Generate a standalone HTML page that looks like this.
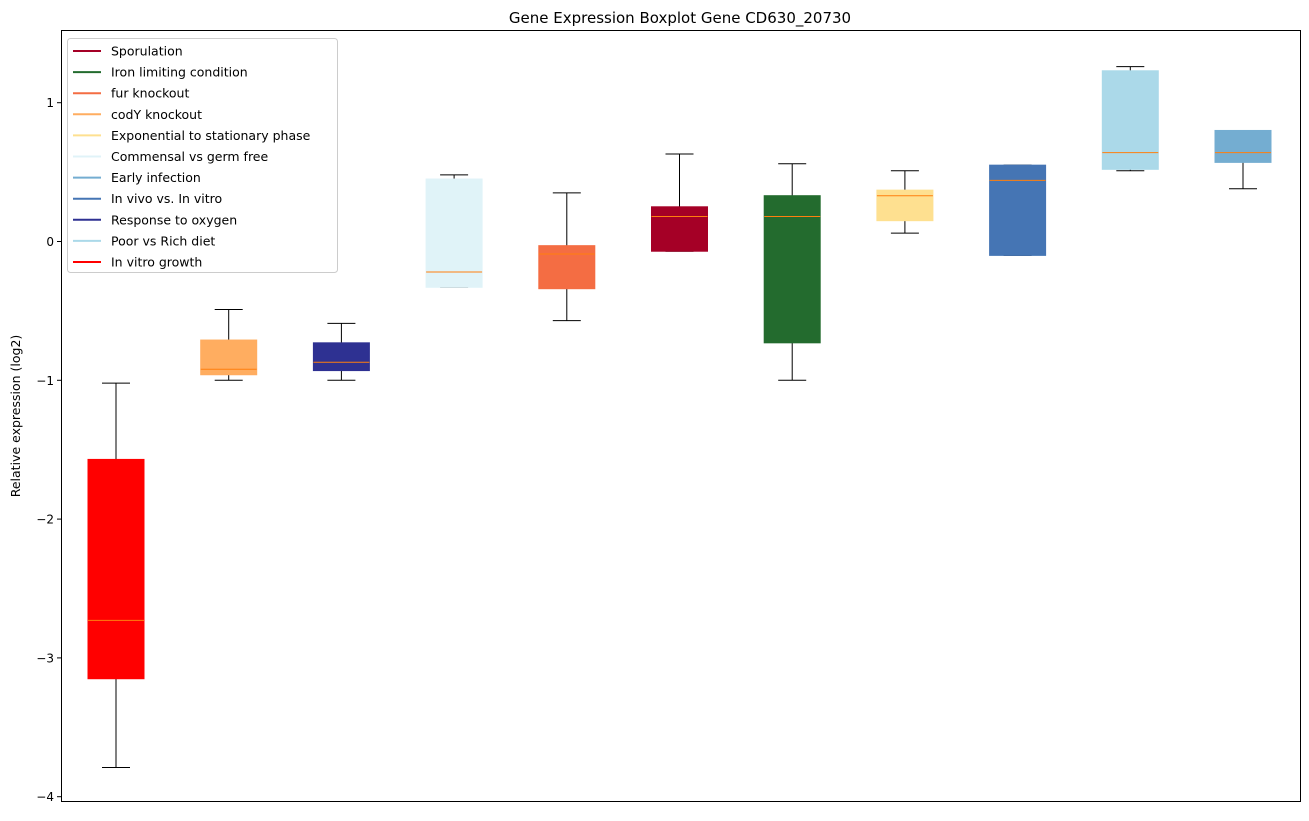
<!DOCTYPE html>
<html><head><meta charset="utf-8"><style>
body{margin:0;background:#fff;font-family:"Liberation Sans","DejaVu Sans",sans-serif;}
svg text{font-family:"DejaVu Sans","Liberation Sans",sans-serif;}
</style></head><body>
<svg id="chart" width="1309" height="816" xmlns="http://www.w3.org/2000/svg">
<text x="680" y="23" font-size="15" text-anchor="middle">Gene Expression Boxplot Gene CD630_20730</text>
<text transform="translate(20,416) rotate(-90)" font-size="12.5" text-anchor="middle">Relative expression (log2)</text>
<g id="plot"></g>
<rect x="61.5" y="30.5" width="1239" height="771" fill="none" stroke="#000" stroke-width="1"/>
<g id="legend"></g>
</svg>
<script>
const categories=["In vitro growth","codY knockout","Response to oxygen","Commensal vs germ free","fur knockout","Sporulation","Iron limiting condition","Exponential to stationary phase","In vivo vs. In vitro","Poor vs Rich diet","Early infection"];
const colors=["#ff0000","#ffad60","#2e3192","#e0f3f8","#f46d43","#a50026","#236b2e","#fee090","#4575b4","#abd9e9","#74add1"];
const whiskerLow=[-3.79,-1.0,-1.0,-0.33,-0.57,-0.07,-1.0,0.06,-0.10,0.51,0.38];
const q1=[-3.15,-0.96,-0.93,-0.33,-0.34,-0.07,-0.73,0.15,-0.10,0.52,0.57];
const medians=[-2.73,-0.92,-0.87,-0.22,-0.09,0.18,0.18,0.33,0.44,0.64,0.64];
const q3=[-1.57,-0.71,-0.73,0.45,-0.03,0.25,0.33,0.37,0.55,1.23,0.80];
const whiskerHigh=[-1.02,-0.49,-0.59,0.48,0.35,0.63,0.56,0.51,0.55,1.26,0.80];
const yTicks=[-4,-3,-2,-1,0,1];
const legendLabels=["Sporulation","Iron limiting condition","fur knockout","codY knockout","Exponential to stationary phase","Commensal vs germ free","Early infection","In vivo vs. In vitro","Response to oxygen","Poor vs Rich diet","In vitro growth"];
const legendColors=["#a50026","#236b2e","#f46d43","#ffad60","#fee090","#e0f3f8","#74add1","#4575b4","#2e3192","#abd9e9","#ff0000"];

const NS="http://www.w3.org/2000/svg";
const y=v=>241.5-v*138.8;
const x=i=>116+i*112.7;
function mk(tag,attrs,parent){const e=document.createElementNS(NS,tag);for(const k in attrs)e.setAttribute(k,attrs[k]);parent.appendChild(e);return e;}
const plot=document.getElementById('plot');
yTicks.forEach(t=>{
  const l=mk('line',{x1:57,x2:61,y1:y(t),y2:y(t),stroke:'#000'},plot);
  
  
  const tx=mk('text',{x:54,y:y(t)+4.5,'font-size':12,'text-anchor':'end'},plot);
  tx.textContent=(t<0?'\u2212'+(-t):t);
  
  
});
const bw=56,cw=28;
categories.forEach((c,i)=>{
  const g=mk('g',{},plot);
  
  
  const cx=x(i);
  mk('line',{x1:cx,x2:cx,y1:y(whiskerHigh[i]),y2:y(q3[i]),stroke:'#000'},g);
  mk('line',{x1:cx,x2:cx,y1:y(q1[i]),y2:y(whiskerLow[i]),stroke:'#000'},g);
  mk('line',{x1:cx-cw/2,x2:cx+cw/2,y1:y(whiskerHigh[i]),y2:y(whiskerHigh[i]),stroke:'#000'},g);
  mk('line',{x1:cx-cw/2,x2:cx+cw/2,y1:y(whiskerLow[i]),y2:y(whiskerLow[i]),stroke:'#000'},g);
  mk('rect',{x:cx-bw/2,y:y(q3[i]),width:bw,height:Math.max(1,y(q1[i])-y(q3[i])),fill:colors[i],stroke:colors[i]},g);
  mk('line',{x1:cx-bw/2,x2:cx+bw/2,y1:y(medians[i]),y2:y(medians[i]),stroke:'#ff7f0e'},g);
});
const lg=document.getElementById('legend');
mk('rect',{x:67.5,y:38.5,width:270,height:234,rx:3,fill:'#fff','fill-opacity':0.8,stroke:'#ccc'},lg);
legendLabels.forEach((lab,i)=>{
  const yy=51+i*21.1;
  const e=mk('g',{},lg);
  
  
  mk('line',{x1:73,x2:101,y1:yy,y2:yy,stroke:legendColors[i],'stroke-width':2},e);
  const t=mk('text',{x:111,y:yy+4.5,'font-size':12.5},e);
  t.textContent=lab;
});
</script>
</body></html>
